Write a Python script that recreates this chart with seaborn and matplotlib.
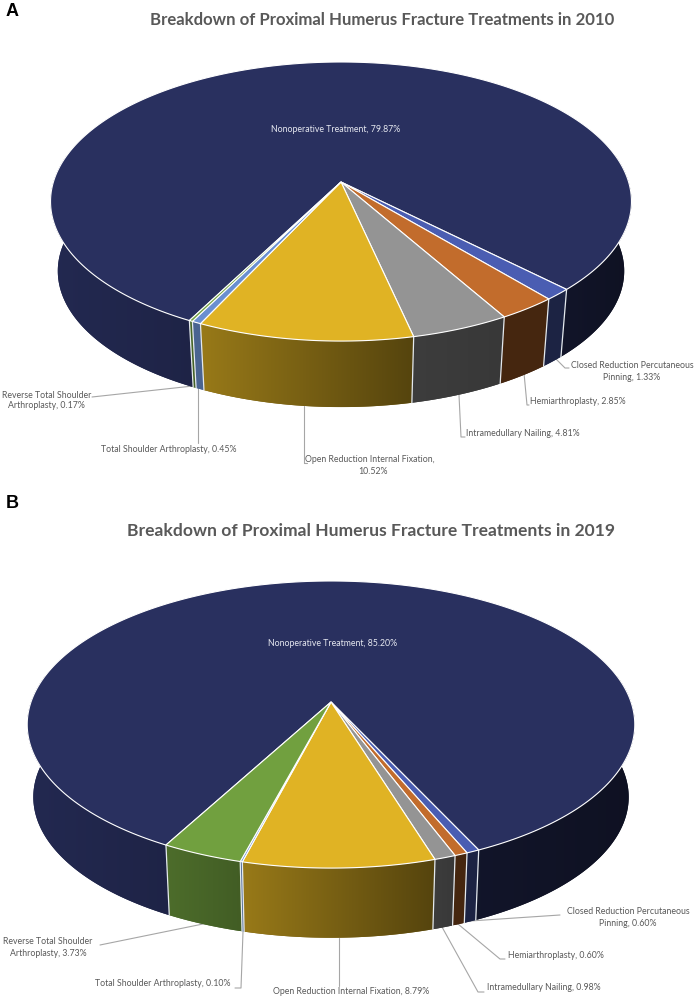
import numpy as np
import seaborn as sns
import matplotlib
matplotlib.use("Agg")
import matplotlib.pyplot as plt
from matplotlib.patches import Polygon

treatments = ["Nonoperative Treatment", "Closed Reduction Percutaneous Pinning", "Hemiarthroplasty",
              "Intramedullary Nailing", "Open Reduction Internal Fixation",
              "Total Shoulder Arthroplasty", "Reverse Total Shoulder Arthroplasty"]
share_2010 = [79.87, 1.33, 2.85, 4.81, 10.52, 0.45, 0.17]
share_2019 = [85.20, 0.60, 0.60, 0.98, 8.79, 0.10, 3.73]

sns.set_theme(style="white")
plt.rcParams['font.family'] = ['Lato', 'DejaVu Sans']
palette = sns.color_palette(["#29305f", "#4a5db2", "#c26c2c", "#949494", "#e0b324", "#6a8fd0", "#71a03f"])
# side wall darkening per slice, at its left and right end
shade_ends = [(0.85, 0.74), (0.38, 0.38), (0.36, 0.36), (0.41, 0.38), (0.68, 0.38), (0.70, 0.70), (0.68, 0.58)]
shade_nonop_right = (0.44, 0.36)
GREY = "#595959"

fig = plt.figure(figsize=(6.96, 9.98), dpi=100)
ax = fig.add_axes([0, 0, 1, 1])


def project(theta, g, lower=False):
    #theta runs clockwise from the back of the pie, k is the perspective
    u, v = np.sin(theta), np.cos(theta)
    w = 1 + g["k"] * v
    x, y = g["A"] * u / w, -g["B"] * v / w
    if lower:
        return g["cx"] + g["s"] * x, g["cy"] + g["drop"] + g["s"] * y
    return g["cx"] + x, g["cy"] + y


def draw_wall(t, g, color, shades):
    xt, yt = project(t, g)
    xb, yb = project(t, g, lower=True)
    xs, ys = np.r_[xt, xb[::-1]], np.r_[yt, yb[::-1]]
    pts = np.column_stack([xs, ys])
    f = np.linspace(shades[0], shades[1], 200)
    grad = np.array(color)[None, None, :] * f[None, :, None]
    ax.fill(xs, ys, facecolor=tuple(np.array(color) * np.mean(shades)), edgecolor="none", zorder=2)
    im = ax.imshow(grad, extent=[xs.min(), xs.max(), ys.max(), ys.min()], aspect="auto",
                   interpolation="bilinear", zorder=2.5)
    im.set_clip_path(Polygon(pts, transform=ax.transData))


def draw_pie(shares, g):
    ends = np.cumsum(shares) / 100 * 2 * np.pi
    starts = np.concatenate([[0], ends[:-1]])
    start_angle = np.deg2rad(g["start"])

    #side wall, only the part in front of the widest point shows
    for i, (a0, a1) in enumerate(zip(starts, ends)):
        t = np.linspace(a0, a1, max(6, int((a1 - a0) * 120))) + start_angle
        t = t[np.cos(t) < 0.2]
        gap = np.where(np.diff(t) > 0.5)[0]
        for piece in np.split(t, gap + 1):
            if len(piece) < 2:
                continue
            shades = shade_ends[i]
            if i == 0 and np.sin(piece[0]) > 0:
                shades = shade_nonop_right
            draw_wall(piece, g, palette[i], shades)

    #white seams down the wall
    for a in ends:
        th = a + start_angle
        if np.cos(th) < 0:
            xt, yt = project(th, g)
            xb, yb = project(th, g, lower=True)
            ax.plot([xt, xb], [yt, yb], color="#e4e9ee", lw=0.9, zorder=3)

    #top face
    for i, (a0, a1) in enumerate(zip(starts, ends)):
        t = np.linspace(a0, a1, max(6, int((a1 - a0) * 120))) + start_angle
        xs, ys = project(t, g)
        ax.fill(np.r_[g["cx"], xs], np.r_[g["cy"], ys], facecolor=palette[i], edgecolor="white", lw=0.8, zorder=4)


def draw_labels(labels, leaders):
    for x, y, txt, col in labels:
        ax.text(x, y, txt, color=col, fontsize=6.3, ha="center", va="center", zorder=6)
    for xs, ys in leaders:
        ax.plot(xs, ys, color="#a6a6a6", lw=0.8, zorder=1)


geom_2010 = dict(cx=341, cy=182, A=287.6, B=136.8, k=0.14, s=0.975, drop=70, start=207.5)
geom_2019 = dict(cx=331, cy=702, A=300, B=140, k=0.157, s=0.98, drop=73, start=208.3)

draw_pie(share_2010, geom_2010)
draw_pie(share_2019, geom_2019)

labels_2010 = [
    (336, 129, "Nonoperative Treatment, 79.87%", "#e6e8f0"),
    (632, 365, "Closed Reduction Percutaneous", GREY),
    (632, 377, "Pinning, 1.33%", GREY),
    (578, 402, "Hemiarthroplasty, 2.85%", GREY),
    (523, 434, "Intramedullary Nailing, 4.81%", GREY),
    (370, 460, "Open Reduction Internal Fixation,", GREY),
    (373, 472, "10.52%", GREY),
    (169, 449, "Total Shoulder Arthroplasty, 0.45%", GREY),
    (47, 395, "Reverse Total Shoulder", GREY),
    (46, 406, "Arthroplasty, 0.17%", GREY),
]
leaders_2010 = [
    ([92, 193], [397, 386]),
    ([198, 198], [386, 443]),
    ([304, 304, 307], [406, 463, 463]),
    ([459, 461, 465], [395, 437, 437]),
    ([524, 527, 529], [373, 405, 405]),
    ([555, 565, 569], [358, 368, 368]),
]
labels_2019 = [
    (333, 644, "Nonoperative Treatment, 85.20%", "#e6e8f0"),
    (628, 912, "Closed Reduction Percutaneous", GREY),
    (628, 924, "Pinning, 0.60%", GREY),
    (556, 955, "Hemiarthroplasty, 0.60%", GREY),
    (544, 988, "Intramedullary Nailing, 0.98%", GREY),
    (351, 992, "Open Reduction Internal Fixation, 8.79%", GREY),
    (163, 984, "Total Shoulder Arthroplasty, 0.10%", GREY),
    (48, 942, "Reverse Total Shoulder", GREY),
    (48, 954, "Arthroplasty, 3.73%", GREY),
]
leaders_2019 = [
    ([100, 203], [945, 924]),
    ([235, 241, 243], [988, 988, 932]),
    ([339, 339], [938, 986]),
    ([442, 478, 484], [927, 992, 992]),
    ([458, 500, 505], [924, 959, 959]),
    ([470, 560], [921, 915]),
]
draw_labels(labels_2010, leaders_2010)
draw_labels(labels_2019, leaders_2019)

ax.text(382, 20, "Breakdown of Proximal Humerus Fracture Treatments in 2010", color=GREY,
        fontsize=12.1, fontweight="bold", ha="center", va="center")
ax.text(371, 531, "Breakdown of Proximal Humerus Fracture Treatments in 2019", color=GREY,
        fontsize=12.6, fontweight="bold", ha="center", va="center")
for y, letter in [(11, "A"), (503, "B")]:
    ax.text(6, y, letter, color="black", fontsize=13, fontweight="bold", family="Liberation Sans",
            ha="left", va="center")

ax.set_xlim(0, 696)
ax.set_ylim(998, 0)
ax.axis("off")
fig.savefig("out.png", dpi=100)
